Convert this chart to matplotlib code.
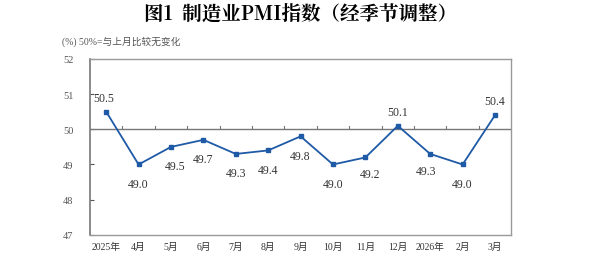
import matplotlib
matplotlib.use("Agg")
from matplotlib import pyplot as plt

plt.rcParams['font.family'] = ['Liberation Serif', 'Noto Sans CJK SC', 'DejaVu Sans']

months = ["2025年", "4月", "5月", "6月", "7月", "8月", "9月",
          "10月", "11月", "12月", "2026年", "2月", "3月"]
pmi = [50.5, 49.0, 49.5, 49.7, 49.3, 49.4, 49.8,
       49.0, 49.2, 50.1, 49.3, 49.0, 50.4]
# label offsets in points (dx, dy)
offsets = [(-2, 10), (0, -14), (3, -14), (0, -14), (0, -14), (0, -14), (0, -14),
           (0, -14), (3, -12), (0, 10), (-3, -12), (0, -14), (0, 10)]

fig = plt.figure(figsize=(6, 2.55), dpi=100)
ax = fig.add_axes([0.15, 0.075, 0.702, 0.69])

x = list(range(len(months)))
ax.plot(x, pmi, color="#1f5aa6", lw=1.3, marker="s", ms=3.5, zorder=3)
for i in x:
    ax.annotate("{:.1f}".format(pmi[i]), (i, pmi[i]), xytext=offsets[i],
                textcoords="offset points", ha="center", va="center",
                fontsize=8.5, color="#333333")

ax.set_xlim(-0.5, len(months) - 0.5)
ax.set_ylim(47, 52)
ax.set_yticks([47, 48, 49, 50, 51, 52])
ax.tick_params(axis="y", length=3, labelsize=7.5, colors="#555555", direction="in", pad=12)
ax.set_xticks(x)
ax.set_xticklabels(months, fontsize=7, color="#333333")
ax.tick_params(axis="x", length=0, pad=5)

# 50 baseline with small upward ticks at category boundaries
ax.axhline(50, color="#777777", lw=1.0, zorder=2)
for b in range(1, len(months)):
    ax.plot([b - 0.5, b - 0.5], [50, 50.08], color="#777777", lw=0.8, zorder=2)

for s in ["top", "right", "bottom"]:
    ax.spines[s].set_color("#999999")
    ax.spines[s].set_linewidth(1.0)
ax.spines["left"].set_color("#777777")
ax.spines["left"].set_linewidth(1.2)

fig.text(0.5, 0.94, "图1  制造业PMI指数（经季节调整）", ha="center", va="center",
         fontsize=14, fontweight="bold", family=["Noto Serif CJK SC", "Noto Sans CJK SC", "DejaVu Sans"])
fig.text(0.103, 0.835, "(%) 50%=与上月比较无变化", ha="left", va="center",
         fontsize=7, color="#555555")

fig.savefig("out.png", dpi=100)
